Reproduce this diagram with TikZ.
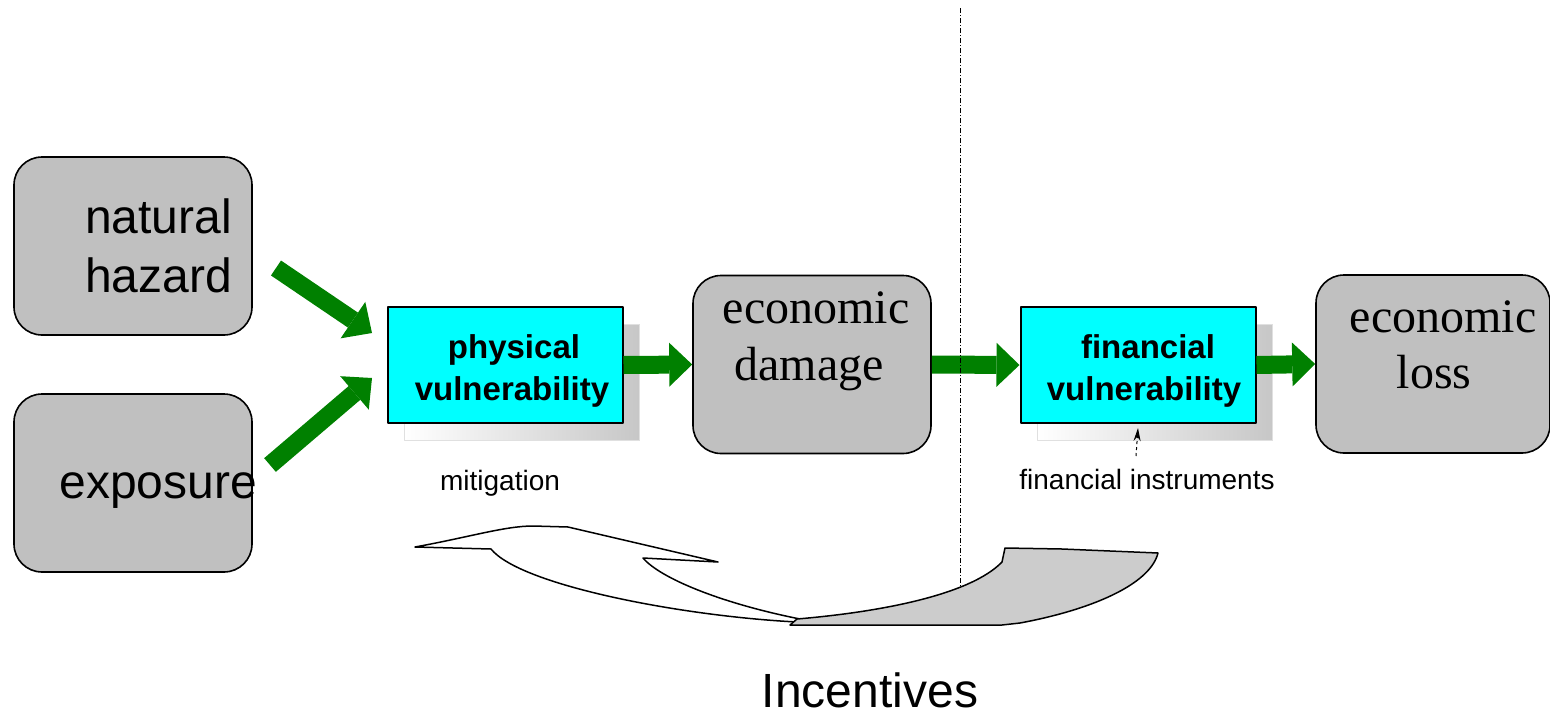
\documentclass[tikz,border=0pt]{standalone}
\usepackage{fontspec}
\setmainfont{Liberation Sans}
\newfontfamily\serifnames{Liberation Serif}
\usetikzlibrary{arrows.meta}
\definecolor{boxgray}{RGB}{192,192,192}
\definecolor{darkgreen}{RGB}{0,128,0}
\definecolor{tailgray}{RGB}{204,204,204}
\definecolor{boxcyan}{RGB}{0,255,255}
\begin{document}
\begin{tikzpicture}[x=1pt, y=-1pt, line join=round,
	graybox/.style={draw, line width=1.6pt, fill=boxgray, rounded corners=28pt, minimum width=238pt, minimum height=178pt, inner sep=0pt},
	cyanbox/.style={draw, line width=2pt, fill=boxcyan, minimum width=235pt, minimum height=116pt, inner sep=0pt},
	shadebox/.style={left color=white, right color=black!22, draw=black!12, line width=0.8pt, minimum width=235pt, minimum height=116pt, inner sep=0pt},
	flow/.style={color=darkgreen, line width=18pt, line cap=butt, -{Triangle[length=23pt, width=44pt, line width=0pt]}},
	big/.style={font=\fontsize{48}{58}\selectfont, inner sep=0pt, anchor=base},
	bigserif/.style={font=\serifnames\fontsize{48}{58}\selectfont, inner sep=0pt, anchor=base},
	boxtext/.style={font=\fontsize{33}{40}\selectfont\bfseries, inner sep=0pt, anchor=base},
	small/.style={font=\fontsize{28}{33}\selectfont, inner sep=0pt, anchor=base},
	loopline/.style={draw, line width=1.5pt}]
	\useasboundingbox (0,0) rectangle (1550,715);
	% boxes
	\node[graybox] (hazard) at (133,246) {};
	\node[graybox] (exposure) at (133,483) {};
	\node[graybox] (ecodamage) at (812,364.5) {};
	\node[graybox, minimum width=234pt] (ecoloss) at (1433,364) {};
	\node[shadebox] (physvul-sh) at (522,382) {};
	\node[cyanbox] (physvul) at (505,365) {};
	\node[shadebox] (finvul-sh) at (1155,382) {};
	\node[cyanbox] (finvul) at (1138,365) {};
	% texts
	\node[big, anchor=base east] (t-natural) at (232,233) {natural};
	\node[big, anchor=base east] (t-hazard) at (232,292) {hazard};
	\node[big, anchor=base east] (t-exposure) at (257,498) {exposure};
	\node[bigserif] (t-economic1) at (816,323) {economic};
	\node[bigserif] (t-damage) at (809,380) {damage};
	\node[bigserif] (t-economic2) at (1443,332) {economic};
	\node[bigserif] (t-loss) at (1434,388) {loss};
	\node[boxtext] (t-physical) at (514,358) {physical};
	\node[boxtext] (t-vul1) at (512,400) {vulnerability};
	\node[boxtext] (t-financial) at (1148,358) {financial};
	\node[boxtext] (t-vul2) at (1144,400) {vulnerability};
	\node[small] (mitigation) at (500,490) {mitigation};
	\node[small] (instruments) at (1147,489) {financial instruments};
	\node[big] (incentives) at (870,707) {Incentives};
	% arrows
	\coordinate (h-tail) at (276,268);
	\coordinate (h-tip) at (372,333);
	\coordinate (e-tail) at (270,465);
	\coordinate (e-tip) at (372,378);
	\draw[flow] (h-tail)--(h-tip);
	\draw[flow] (e-tail)--(e-tip);
	\foreach \a/\b in {physvul/ecodamage, ecodamage/finvul, finvul/ecoloss}
		\draw[flow] (\a.east)--(\b.west);
	\draw[line width=1pt, dash pattern=on 3pt off 3pt, -{Stealth[length=13pt, width=7pt]}]
		([xshift=-2pt, yshift=-32pt]finvul.south)--([yshift=-4pt]finvul.south);
	% divider
	\draw[line width=1pt, dash pattern=on 5pt off 2pt on 1pt off 2pt] (960,8)--(960,590);
	% incentive loop
	\draw[loopline, fill=white] (415,547) .. controls (470,537) and (505,526) .. (533,526) -- (568,527)
		-- (718,562) -- (643,558) .. controls (660,578) and (720,603) .. (800,619)
		-- (797,622) .. controls (680,616) and (520,585) .. (491,549) -- cycle;
	\draw[loopline, fill=tailgray] (797,619) .. controls (880,612) and (970,595) .. (1002,562)
		-- (1005,548) -- (1062,549) -- (1158,553) .. controls (1150,585) and (1090,610) .. (1020,623)
		-- (1002,625) -- (790,625) -- cycle;
\end{tikzpicture}
\end{document}
